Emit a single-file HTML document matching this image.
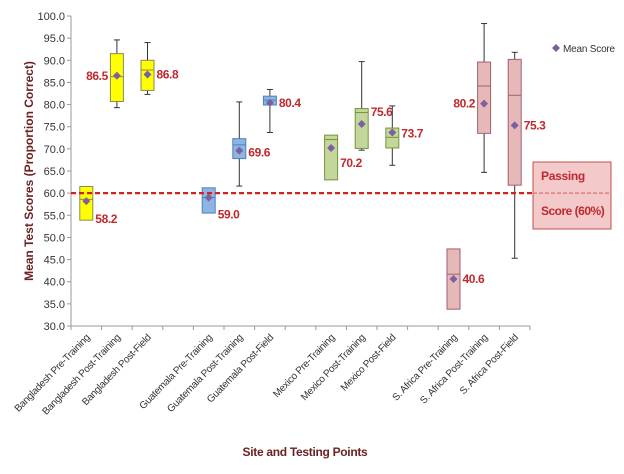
<!DOCTYPE html>
<html><head><meta charset="utf-8"><style>
body{margin:0;background:#fff;}
svg{display:block;font-family:"Liberation Sans",sans-serif;}
</style></head><body>
<svg id="chart" width="624" height="474" viewBox="0 0 624 474"></svg>
<script>
const categories=["Bangladesh Pre-Training","Bangladesh Post-Training","Bangladesh Post-Field","Guatemala Pre-Training","Guatemala Post-Training","Guatemala Post-Field","Mexico Pre-Training","Mexico Post-Training","Mexico Post-Field","S. Africa Pre-Training","S. Africa Post-Training","S. Africa Post-Field"];
const slots=[0,1,2,4,5,6,8,9,10,12,13,14];
const whiskerLow=[53.9,79.3,82.3,55.5,61.6,73.7,63.0,69.7,66.3,33.8,64.7,45.3];
const q1=[53.9,80.7,83.2,55.5,67.8,79.9,63.0,70.1,70.2,33.8,73.5,61.8];
const median=[58.6,86.3,87.8,59.0,70.9,81.0,72.1,78.2,72.6,41.7,84.2,82.1];
const q3=[61.5,91.5,90.0,61.2,72.3,81.9,73.1,79.1,74.7,47.4,89.6,90.2];
const whiskerHigh=[61.5,94.6,94.0,61.2,80.6,83.4,73.1,89.7,79.7,47.4,98.3,91.8];
const means=[58.2,86.5,86.8,59.0,69.6,80.4,70.2,75.6,73.7,40.6,80.2,75.3];
const yTicks=[30,35,40,45,50,55,60,65,70,75,80,85,90,95,100];
const passing=60;
const groupFill=["#ffff00","#ffff00","#ffff00","#8db4e2","#8db4e2","#8db4e2","#c4d79b","#c4d79b","#c4d79b","#e6b9b8","#e6b9b8","#e6b9b8"];
const groupStroke=["#8a8a50","#8a8a50","#8a8a50","#4f81bd","#4f81bd","#4f81bd","#77933c","#77933c","#77933c","#a06070","#a06070","#a06070"];
const labelSide=[1,-1,1,1,1,1,1,1,1,1,-1,1];
const labelDy=[18,0,0,17,2,0,15,-12,1,0,0,0];

const NS="http://www.w3.org/2000/svg";
const svg=document.getElementById('chart');
const X0=71,SLOT=30.6,Y0=326,Y1=16;
const y=v=>Y0-(v-30)*(Y0-Y1)/70;
const x=s=>X0+SLOT*(s+0.5);
function mk(t,a,p){const e=document.createElementNS(NS,t);for(const k in a)e.setAttribute(k,a[k]);(p||svg).appendChild(e);return e;}

let e=mk('line',{x1:X0,y1:Y1,x2:X0,y2:Y0,stroke:'#999'});


e=mk('line',{x1:X0,y1:Y0,x2:X0+SLOT*15,y2:Y0,stroke:'#999'});


yTicks.forEach(v=>{
  mk('line',{x1:X0-4,y1:y(v),x2:X0,y2:y(v),stroke:'#999'});
  const t=mk('text',{x:X0-6,y:y(v)+4,'text-anchor':'end','font-size':11,fill:'#333'});
  t.textContent=v.toFixed(1);
  
  
});
for(let i=0;i<=15;i++)mk('line',{x1:X0+SLOT*i,y1:Y0,x2:X0+SLOT*i,y2:Y0+4,stroke:'#999'});

e=mk('rect',{x:533,y:162,width:78,height:67,fill:'#f4c9c9',stroke:'#c0504d'});


mk('line',{x1:533,y1:y(passing),x2:611,y2:y(passing),stroke:'#e08080','stroke-width':1.5,'stroke-dasharray':'4,2'});
e=mk('text',{x:541,y:180,'font-size':12,'font-weight':'bold',fill:'#c0282d','letter-spacing':'-0.3'});e.textContent='Passing';


e=mk('text',{x:541,y:215,'font-size':12,'font-weight':'bold',fill:'#c0282d','letter-spacing':'-0.5'});e.textContent='Score (60%)';



categories.forEach((c,i)=>{
  const cx=x(slots[i]),w=13;
  const g=mk('g',{});
  
  
  if(whiskerHigh[i]>q3[i]){mk('line',{x1:cx,y1:y(whiskerHigh[i]),x2:cx,y2:y(q3[i]),stroke:'#333'},g);mk('line',{x1:cx-3,y1:y(whiskerHigh[i]),x2:cx+3,y2:y(whiskerHigh[i]),stroke:'#333'},g);}
  if(whiskerLow[i]<q1[i]){mk('line',{x1:cx,y1:y(q1[i]),x2:cx,y2:y(whiskerLow[i]),stroke:'#333'},g);mk('line',{x1:cx-3,y1:y(whiskerLow[i]),x2:cx+3,y2:y(whiskerLow[i]),stroke:'#333'},g);}
  mk('rect',{x:cx-w/2,y:y(q3[i]),width:w,height:y(q1[i])-y(q3[i]),fill:groupFill[i],stroke:groupStroke[i]},g);
  mk('line',{x1:cx-w/2,y1:y(median[i]),x2:cx+w/2,y2:y(median[i]),stroke:groupStroke[i]},g);
  const my=y(means[i]);
  const d=mk('path',{d:`M${cx},${my-4}L${cx+4},${my}L${cx},${my+4}L${cx-4},${my}Z`,fill:'#7d60a0'},g);
  
  
  const lx=labelSide[i]>0?cx+9:cx-9;
  const t=mk('text',{x:lx,y:my+labelDy[i]+4,'text-anchor':labelSide[i]>0?'start':'end','font-size':12,'font-weight':'bold',fill:'#c0282d','letter-spacing':'-0.4'},g);
  t.textContent=means[i].toFixed(1);
  
  
  const xl=mk('text',{x:cx+4,y:Y0+12,'text-anchor':'end','font-size':10,fill:'#333','letter-spacing':'-0.3',transform:`rotate(-46 ${cx+4} ${Y0+12})`});
  xl.textContent=c;
  
  
});

e=mk('line',{x1:X0,y1:y(passing),x2:533,y2:y(passing),stroke:'#d42020','stroke-width':2.2,'stroke-dasharray':'5,3'});



e=mk('path',{d:'M556,44L560,48L556,52L552,48Z',fill:'#7d60a0'});


e=mk('text',{x:563,y:52,'font-size':10,fill:'#333','letter-spacing':'-0.2'});e.textContent='Mean Score';



e=mk('text',{x:33,y:171,'text-anchor':'middle','font-size':12,'font-weight':'bold',fill:'#6b2222',transform:'rotate(-90 33 171)'});
e.textContent='Mean Test Scores (Proportion Correct)';


e=mk('text',{x:305,y:456,'text-anchor':'middle','font-size':12,'font-weight':'bold',fill:'#6b2222','letter-spacing':'-0.3'});
e.textContent='Site and Testing Points';


</script>
</body></html>
